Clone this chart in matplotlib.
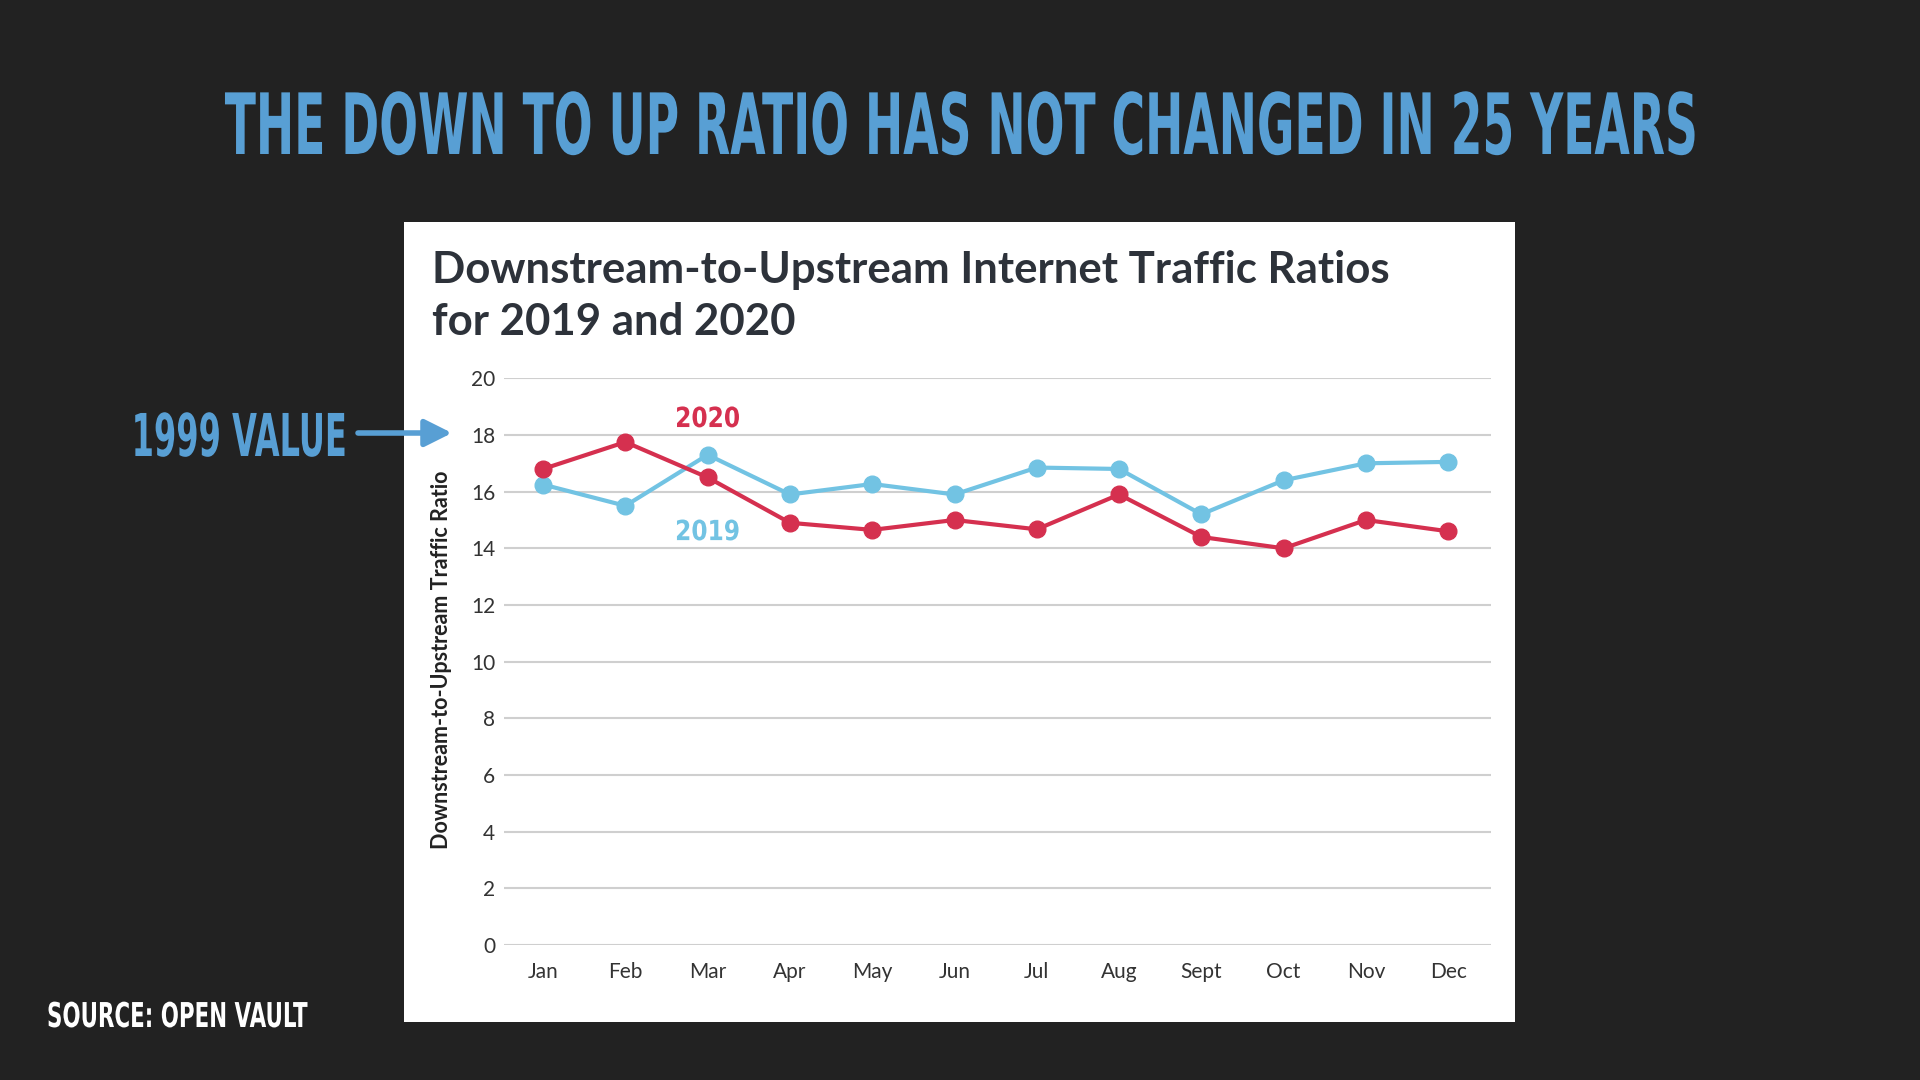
import matplotlib
matplotlib.use("Agg")
import matplotlib.pyplot as plt
from matplotlib.patches import Rectangle, FancyArrowPatch
from matplotlib.patheffects import AbstractPathEffect
from matplotlib.transforms import Affine2D

# ---------------- data ----------------
months = ["Jan", "Feb", "Mar", "Apr", "May", "Jun", "Jul", "Aug", "Sept", "Oct", "Nov", "Dec"]
ratio_2020 = [16.8, 17.75, 16.5, 14.9, 14.65, 15.0, 14.67, 15.9, 14.4, 14.0, 15.0, 14.6]
ratio_2019 = [16.25, 15.5, 17.3, 15.9, 16.27, 15.9, 16.85, 16.8, 15.2, 16.4, 17.0, 17.05]
y_ticks = [0, 2, 4, 6, 8, 10, 12, 14, 16, 18, 20]

slide_title = "THE DOWN TO UP RATIO HAS NOT CHANGED IN 25 YEARS"
chart_title_1 = "Downstream-to-Upstream Internet Traffic Ratios"
chart_title_2 = "for 2019 and 2020"
y_label = "Downstream-to-Upstream Traffic Ratio"
note_1999 = "1999 VALUE"
source = "SOURCE: OPEN VAULT"

# ---------------- style ----------------
BG = "#222222"
SLIDE_BLUE = "#589FD4"
RED = "#D5304F"
BLUE = "#72C3E3"
DARK = "#2D323A"

W, H = 1920, 1080
fig = plt.figure(figsize=(19.2, 10.8), dpi=100, facecolor=BG)


class Tall(AbstractPathEffect):
    """Stretch glyphs vertically about the baseline (gives a condensed look)."""

    def __init__(self, sy, y0):
        super().__init__()
        self.sy = sy
        self.y0 = y0

    def draw_path(self, renderer, gc, tpath, affine, rgbFace=None):
        aff = affine + Affine2D().translate(0, -self.y0).scale(1, self.sy).translate(0, self.y0)
        renderer.draw_path(gc, tpath, aff, rgbFace)


def fx(x):
    return x / W


def fy(y):
    return 1 - y / H


def cond_text(xpx, ypx, s, size, sy, color, ha):
    fig.text(fx(xpx), fy(ypx), s, color=color, fontsize=size, ha=ha, va="baseline",
             family="DejaVu Sans", weight="bold",
             path_effects=[Tall(sy, H - ypx)])


# white chart panel
fig.patches.append(Rectangle((fx(404), fy(1022)), (1515 - 404) / W, (1022 - 222) / H,
                             transform=fig.transFigure, facecolor="white",
                             edgecolor="none", zorder=-10))

# axes
ax = fig.add_axes([fx(503.6), fy(945), (1491 - 503.6) / W, (945 - 378.3) / H])
ax.set_facecolor("none")
x = list(range(len(months)))
ax.plot(x, ratio_2019, color=BLUE, lw=3, marker="o", ms=12, zorder=3, clip_on=False)
ax.plot(x, ratio_2020, color=RED, lw=3, marker="o", ms=12, zorder=4, clip_on=False)

ax.set_xlim(-0.48, 11.52)
ax.set_ylim(0, 20)
ax.set_yticks(y_ticks)
ax.set_xticks(x)
ax.set_xticklabels(months)
ax.grid(axis="y", color="#cfcfcf", lw=1.5, zorder=0)
ax.set_axisbelow(True)
for s in ax.spines.values():
    s.set_visible(False)
ax.tick_params(axis="both", length=0, labelcolor="#333333")
ax.tick_params(axis="y", pad=6, labelsize=15)
ax.tick_params(axis="x", pad=12, labelsize=15)
for lbl in ax.get_xticklabels() + ax.get_yticklabels():
    lbl.set_family("Lato")

# series labels
for yv, base_px, s, c in [(18.28, 427, "2020", RED), (14.29, 540, "2019", BLUE)]:
    ax.text(2, yv, s, color=c, fontsize=16.8, ha="center", va="baseline",
            family="DejaVu Sans", weight="bold", path_effects=[Tall(1.19, H - base_px)])

# texts on figure
cond_text(960, 154, slide_title, 32.9, 1.85, SLIDE_BLUE, "center")
fig.text(fx(432), fy(283), chart_title_1, color=DARK, fontsize=31.5, ha="left",
         va="baseline", family="Lato", weight="bold")
fig.text(fx(432), fy(335), chart_title_2, color=DARK, fontsize=31.5, ha="left",
         va="baseline", family="Lato", weight="bold")
fig.text(fx(441), fy(660), y_label, color="#222222", fontsize=15.5, rotation=90,
         ha="center", va="center", family="Lato", weight="bold")
cond_text(347, 456, note_1999, 23.1, 1.84, SLIDE_BLUE, "right")
cond_text(47, 1027, source, 15.4, 1.6, "white", "left")

fig.add_artist(FancyArrowPatch(
    (358, H - 433), (452, H - 433), transform=None,
    arrowstyle="-|>", mutation_scale=41, lw=4, color=SLIDE_BLUE,
    shrinkA=0, shrinkB=0))

fig.savefig("out.png", dpi=100, facecolor=BG)
